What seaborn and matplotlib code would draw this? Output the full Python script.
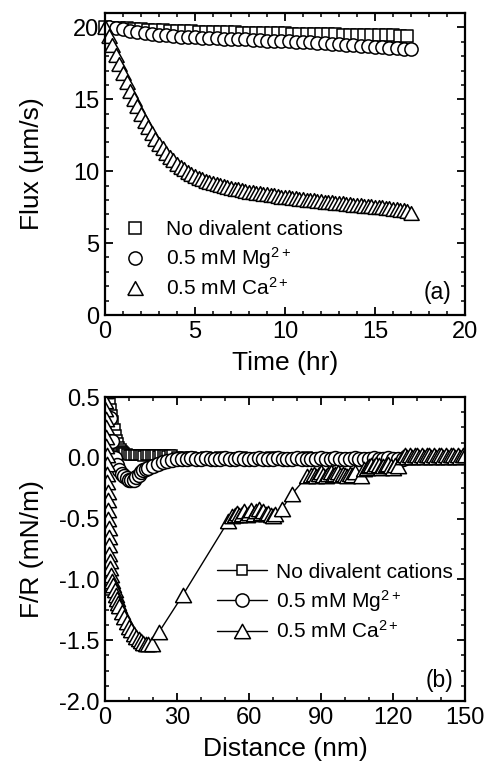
import numpy as np
import pandas as pd
import matplotlib
matplotlib.use("Agg")
import matplotlib.pyplot as plt
from matplotlib.lines import Line2D
from matplotlib.ticker import MultipleLocator, FormatStrFormatter
import seaborn as sns

# ---------------- data: panel (a) flux vs time ----------------
t_none = [0.0, 0.4, 0.8, 1.2, 1.6, 2.0, 2.4, 2.8, 3.2, 3.6, 4.0, 4.4, 4.8, 5.2, 5.6,
          6.0, 6.4, 6.8, 7.2, 7.6, 8.0, 8.4, 8.8, 9.2, 9.6, 10.0, 10.4, 10.8, 11.2,
          11.6, 12.0, 12.4, 12.8, 13.2, 13.6, 14.0, 14.4, 14.8, 15.2, 15.6, 16.0,
          16.4, 16.8]
flux_none = [20.00, 19.98, 19.95, 19.93, 19.90, 19.87, 19.85, 19.83, 19.80, 19.78,
             19.76, 19.74, 19.72, 19.70, 19.69, 19.68, 19.67, 19.66, 19.65, 19.64,
             19.63, 19.62, 19.61, 19.60, 19.59, 19.58, 19.57, 19.56, 19.55, 19.54,
             19.53, 19.52, 19.51, 19.50, 19.49, 19.48, 19.47, 19.46, 19.45, 19.45,
             19.44, 19.43, 19.42]

t_mg = [0.2, 0.6, 1.0, 1.4, 1.8, 2.2, 2.6, 3.0, 3.4, 3.8, 4.2, 4.6, 5.0, 5.4, 5.8,
        6.2, 6.6, 7.0, 7.4, 7.8, 8.2, 8.6, 9.0, 9.4, 9.8, 10.2, 10.6, 11.0, 11.4,
        11.8, 12.2, 12.6, 13.0, 13.4, 13.8, 14.2, 14.6, 15.0, 15.4, 15.8, 16.2,
        16.6, 17.0]
flux_mg = [20.00, 19.95, 19.86, 19.78, 19.70, 19.62, 19.55, 19.49, 19.44, 19.40,
           19.36, 19.33, 19.30, 19.28, 19.26, 19.24, 19.22, 19.20, 19.18, 19.16,
           19.13, 19.10, 19.08, 19.06, 19.04, 19.02, 19.00, 18.97, 18.95, 18.93,
           18.90, 18.87, 18.84, 18.80, 18.77, 18.74, 18.71, 18.67, 18.63, 18.59,
           18.56, 18.52, 18.48]

t_ca = [0.0, 0.2, 0.4, 0.6, 0.8, 1.0, 1.2, 1.4, 1.6, 1.8, 2.0, 2.2, 2.4, 2.6, 2.8,
        3.0, 3.2, 3.4, 3.6, 3.8, 4.0, 4.2, 4.4, 4.6, 4.8, 5.0, 5.2, 5.4, 5.6, 5.8,
        6.0, 6.2, 6.4, 6.6, 6.8, 7.0, 7.2, 7.4, 7.6, 7.8, 8.0, 8.2, 8.4, 8.6, 8.8,
        9.0, 9.2, 9.4, 9.6, 9.8, 10.0, 10.2, 10.4, 10.6, 10.8, 11.0, 11.2, 11.4,
        11.6, 11.8, 12.0, 12.2, 12.4, 12.6, 12.8, 13.0, 13.2, 13.4, 13.6, 13.8,
        14.0, 14.2, 14.4, 14.6, 14.8, 15.0, 15.2, 15.4, 15.6, 15.8, 16.0, 16.2,
        16.4, 16.6, 16.8, 17.0]
flux_ca = [20.00, 19.40, 18.75, 18.10, 17.45, 16.80, 16.20, 15.60, 15.05, 14.50,
           14.00, 13.50, 13.05, 12.65, 12.25, 11.90, 11.58, 11.28, 11.00, 10.75,
           10.52, 10.32, 10.13, 9.97, 9.82, 9.68, 9.56, 9.45, 9.35, 9.26,
           9.18, 9.10, 9.03, 8.96, 8.90, 8.84, 8.78, 8.73, 8.68, 8.63,
           8.58, 8.54, 8.50, 8.46, 8.42, 8.38, 8.34, 8.31, 8.28, 8.24,
           8.21, 8.18, 8.15, 8.12, 8.09, 8.06, 8.03, 8.00, 7.97, 7.95,
           7.92, 7.89, 7.86, 7.84, 7.81, 7.78, 7.76, 7.73, 7.71, 7.68,
           7.66, 7.63, 7.61, 7.58, 7.56, 7.53, 7.51, 7.48, 7.46, 7.43,
           7.40, 7.36, 7.32, 7.27, 7.22, 7.12]

# ---------------- data: panel (b) force vs distance ----------------
d_none = [0.5, 1.0, 1.5, 2.0, 2.5, 3.0, 3.5, 4.0, 4.5, 5.0, 5.5, 6.0, 6.5, 7.0, 7.5,
          8.0, 9, 10, 11, 12, 13, 14, 15, 16, 17, 18, 19, 20, 21, 22, 23, 24, 25,
          26, 27, 28, 30, 33, 36, 39, 42, 45, 48, 51, 54, 57, 60, 63, 66, 69, 72,
          75, 78, 81, 84, 87, 90, 93, 96, 99, 102, 105, 108, 111, 114, 117, 120,
          123, 126, 129, 132, 135, 138, 141, 144, 147, 150]
fr_none = [0.62, 0.56, 0.50, 0.45, 0.40, 0.35, 0.30, 0.24, 0.19, 0.15, 0.12, 0.09,
           0.07, 0.06, 0.05, 0.04, 0.03, 0.025, 0.02, 0.02, 0.025, 0.02, 0.02,
           0.015, 0.02, 0.02, 0.025, 0.02, 0.02, 0.015, 0.02, 0.02, 0.02, 0.015,
           0.02, 0.02, 0.01, 0.01, 0.01, 0.0, 0.01, 0.0, 0.01, 0.0, 0.0, 0.01,
           0.0, 0.0, 0.0, 0.01, 0.0, 0.0, 0.0, 0.0, 0.01, 0.0, 0.0, 0.0, 0.0,
           0.0, 0.0, 0.0, 0.0, 0.0, 0.0, 0.0, 0.0, 0.0, 0.01, 0.01, 0.01, 0.0,
           0.01, 0.01, 0.01, 0.0, 0.01]

d_mg = [1, 2, 3, 4, 5, 6, 7, 8, 9, 10, 11, 12, 13, 14, 15, 16, 17, 18, 20, 22, 24,
        26, 28, 30, 32, 34, 36, 38, 40, 42, 44, 46, 48, 50, 52, 54, 56, 58, 60,
        62, 64, 66, 68, 70, 72, 74, 76, 78, 80, 82, 84, 86, 88, 90, 92, 94, 96,
        98, 100, 102, 104, 106, 108, 110, 112, 114, 116, 118, 120, 122, 124]
fr_mg = [0.55, 0.33, 0.14, 0.0, -0.06, -0.10, -0.13, -0.15, -0.17, -0.18, -0.185,
         -0.18, -0.16, -0.14, -0.12, -0.10, -0.09, -0.08, -0.065, -0.05, -0.035,
         -0.025, -0.015, -0.01, -0.01, -0.01, -0.005, -0.01, -0.01, -0.005,
         -0.01, -0.01, -0.01, -0.005, -0.01, -0.01, -0.005, -0.01, -0.01,
         -0.01, -0.005, -0.01, -0.01, -0.01, -0.005, -0.01, -0.01, -0.01,
         -0.005, -0.01, -0.01, -0.01, -0.01, -0.005, -0.01, -0.01, -0.005,
         -0.01, -0.01, -0.01, -0.005, -0.01, -0.01, -0.01, -0.005, -0.01,
         -0.01, -0.005, -0.01, -0.01, -0.01]

d_ca = [0.0, 0.1, 0.2, 0.3, 0.4, 0.5, 0.6, 0.7, 0.8, 0.9, 1.0, 1.1, 1.2, 1.3, 1.4,
        1.5, 1.6, 1.7, 1.8, 1.9, 2.0,
        2.5, 3.0, 3.5, 4.0, 4.5, 5.0, 5.5, 6.0, 7.0, 8.0, 9.0, 10.0, 11.0, 12.0,
        13.0, 14.0, 15.0, 16.0, 17.0, 18.0, 19.4,
        22.6, 32.4, 51.4,
        53, 54, 55, 56, 57, 58, 59, 60, 61, 62, 63, 64, 65, 66, 67, 68, 69, 70, 71,
        73.7, 77.8, 84.3,
        86, 87, 88, 89, 90, 91, 92, 93, 94, 95, 96, 97, 98, 99, 100, 101, 102, 103,
        104,
        106.5, 108, 109, 110, 111, 112, 113, 114, 115, 116, 117, 118, 119, 120,
        121, 122,
        124, 125, 126, 127, 128, 129, 130, 131, 132, 133, 134, 135, 136, 137, 138,
        139, 140, 141, 142, 143, 144, 145, 146, 147, 148, 149, 150]
fr_ca = [0.55, 0.47, 0.40, 0.32, 0.25, 0.17, 0.10, 0.02, -0.05, -0.13, -0.20,
         -0.28, -0.35, -0.43, -0.50, -0.58, -0.65, -0.72, -0.79, -0.85, -0.91,
         -0.96, -1.01, -1.05, -1.09, -1.13, -1.16, -1.19, -1.22, -1.27, -1.31,
         -1.35, -1.39, -1.42, -1.45, -1.47, -1.49, -1.51, -1.52, -1.53, -1.535,
         -1.53,
         -1.43, -1.13, -0.52,
         -0.48, -0.47, -0.45, -0.47, -0.46, -0.44, -0.47, -0.45, -0.43, -0.46,
         -0.44, -0.42, -0.45, -0.44, -0.46, -0.45, -0.47, -0.48, -0.46,
         -0.42, -0.30, -0.15,
         -0.14, -0.13, -0.15, -0.13, -0.12, -0.14, -0.15, -0.13, -0.12, -0.14,
         -0.13, -0.12, -0.14, -0.13, -0.14, -0.15, -0.13, -0.14, -0.12,
         -0.15, -0.09, -0.08, -0.07, -0.06, -0.07, -0.05, -0.06, -0.08, -0.07,
         -0.06, -0.05, -0.07, -0.08, -0.06, -0.07,
         0.01, 0.02, 0.01, 0.02, 0.01, 0.02, 0.02, 0.01, 0.02, 0.01, 0.02, 0.02,
         0.01, 0.02, 0.01, 0.02, 0.02, 0.01, 0.02, 0.01, 0.02, 0.02, 0.01, 0.02,
         0.01, 0.02, 0.02]

labels = ["No divalent cations",
          r"0.5 mM Mg$^{\mathregular{2+}}$",
          r"0.5 mM Ca$^{\mathregular{2+}}$"]

# ---------------- style ----------------
sns.set_theme(style="ticks")
plt.rcParams["font.family"] = ["Liberation Sans", "DejaVu Sans"]
plt.rcParams["mathtext.fontset"] = "custom"
plt.rcParams["mathtext.rm"] = "Liberation Sans"
plt.rcParams["mathtext.it"] = "Liberation Sans:italic"
plt.rcParams["mathtext.bf"] = "Liberation Sans:bold"
plt.rcParams["axes.unicode_minus"] = False
for key in ["text.color", "axes.labelcolor", "xtick.color", "ytick.color",
            "axes.edgecolor", "xtick.labelcolor", "ytick.labelcolor"]:
    plt.rcParams[key] = "black"

TRI = [(-1, -0.9), (1, -0.9), (0, 0.9), (-1, -0.9)]
MK = {"sq": "s", "ci": "o", "tr": TRI}

fig = plt.figure(figsize=(4.85, 7.67), dpi=100)
ax1 = fig.add_axes([105 / 485, 1 - 315 / 767, 360 / 485, 302 / 767])
ax2 = fig.add_axes([105 / 485, 1 - 701 / 767, 360 / 485, 304 / 767])

TICK_FS = 17
LABEL_FS = 19
LEG_FS = 15
EW = 1.1

def style_axes(ax):
    for s in ax.spines.values():
        s.set_linewidth(1.6)
        s.set_color("black")
    ax.tick_params(which="both", direction="in", top=True, right=True,
                   colors="black", labelcolor="black", labelsize=TICK_FS)
    ax.tick_params(which="major", length=5.5, width=1.3, pad=4)
    ax.tick_params(which="minor", length=3, width=1.1)

# ---------------- panel (a) ----------------
df_a = [pd.DataFrame({"t": t_none, "f": flux_none}),
        pd.DataFrame({"t": t_mg, "f": flux_mg}),
        pd.DataFrame({"t": t_ca, "f": flux_ca})]
sizes_a = [8.5, 9.5, 11]
for df, mk, ms in zip(df_a, ["sq", "ci", "tr"], sizes_a):
    sns.scatterplot(data=df, x="t", y="f", ax=ax1, marker=MK[mk], s=ms ** 2,
                    color="white", edgecolor="black", linewidth=EW,
                    clip_on=False, legend=False)

ax1.set_xlim(0, 20)
ax1.set_ylim(0, 21)
ax1.xaxis.set_major_locator(MultipleLocator(5))
ax1.xaxis.set_minor_locator(MultipleLocator(1))
ax1.yaxis.set_major_locator(MultipleLocator(5))
ax1.yaxis.set_minor_locator(MultipleLocator(1))
style_axes(ax1)
ax1.set_xlabel("Time (hr)", fontsize=LABEL_FS)
ax1.set_ylabel("Flux (μm/s)", fontsize=LABEL_FS)
ax1.xaxis.set_label_coords(0.5, -0.12)
ax1.yaxis.set_label_coords(-0.17, 0.5)

h_a = [Line2D([], [], ls="none", marker=MK[m], ms=s, mfc="white", mec="black",
              mew=EW) for m, s in zip(["sq", "ci", "tr"], [8.5, 9.5, 11])]
ax1.legend(h_a, labels, loc="upper left", bbox_to_anchor=(0.055, 0.315),
           frameon=False, fontsize=LEG_FS, handlelength=1.0,
           handletextpad=1.0, labelspacing=0.3, borderpad=0, borderaxespad=0)
ax1.text(0.925, 0.073, "(a)", transform=ax1.transAxes, fontsize=16.5,
         ha="center", va="center")

# ---------------- panel (b) ----------------
df_b = [pd.DataFrame({"d": d_none, "fr": fr_none}),
        pd.DataFrame({"d": d_mg, "fr": fr_mg}),
        pd.DataFrame({"d": d_ca, "fr": fr_ca})]
sizes_b = [7.5, 10, 11.5]
for df, mk, ms in zip(df_b, ["sq", "ci", "tr"], sizes_b):
    sns.lineplot(data=df, x="d", y="fr", ax=ax2, estimator=None, sort=False,
                 color="black", linewidth=1.0, marker=MK[mk], markersize=ms,
                 markerfacecolor="white", markeredgecolor="black",
                 markeredgewidth=EW, legend=False)

ax2.set_xlim(0, 150)
ax2.set_ylim(-2.0, 0.5)
ax2.xaxis.set_major_locator(MultipleLocator(30))
ax2.xaxis.set_minor_locator(MultipleLocator(10))
ax2.yaxis.set_major_locator(MultipleLocator(0.5))
ax2.yaxis.set_minor_locator(MultipleLocator(0.125))
ax2.yaxis.set_major_formatter(FormatStrFormatter("%.1f"))
style_axes(ax2)
ax2.set_xlabel("Distance (nm)", fontsize=LABEL_FS)
ax2.set_ylabel("F/R (mN/m)", fontsize=LABEL_FS)
ax2.xaxis.set_label_coords(0.5, -0.12)
ax2.yaxis.set_label_coords(-0.17, 0.5)

h_b = [Line2D([], [], color="black", lw=1.0, marker=MK[m], ms=s, mfc="white",
              mec="black", mew=EW) for m, s in zip(["sq", "ci", "tr"], [7.5, 9.5, 11.5])]
ax2.legend(h_b, labels, loc="upper left", bbox_to_anchor=(0.31, 0.455),
           frameon=False, fontsize=LEG_FS, handlelength=2.4,
           handletextpad=0.45, labelspacing=0.3, borderpad=0, borderaxespad=0)
ax2.text(0.93, 0.069, "(b)", transform=ax2.transAxes, fontsize=16.5,
         ha="center", va="center")

fig.savefig("out.png", dpi=100, facecolor="white")
